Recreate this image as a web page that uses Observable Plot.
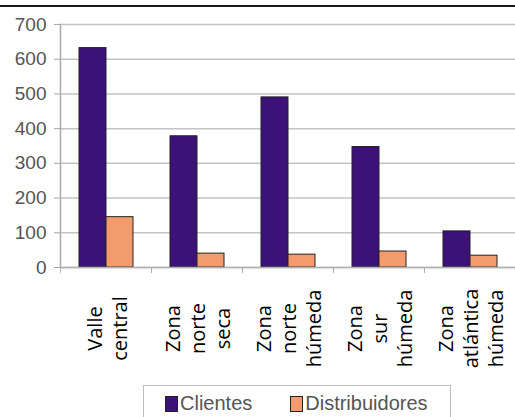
<!DOCTYPE html>
<html>
<head>
<meta charset="utf-8">
<script src="https://cdn.jsdelivr.net/npm/d3@7"></script>
<script src="https://cdn.jsdelivr.net/npm/@observablehq/plot@0.6"></script>
<style>
  html, body { margin: 0; padding: 0; background: #fff; overflow: hidden; }
  #wrap { position: relative; width: 515px; height: 417px; }
  #topline { position: absolute; left: 0; top: 5px; width: 515px; border-top: 2px solid #1a1a1a; }
  #chart { position: absolute; left: 0; top: 0; }
  #legend { position: absolute; left: 143px; top: 385px; width: 308px; height: 40px;
    border: 1.5px solid #bdbdbd; box-sizing: border-box; display: flex; align-items: flex-start;
    font-family: "Liberation Sans", Arial, sans-serif; font-size: 20px; color: #555; padding-top: 6px; }
  .item { display: flex; align-items: center; }
  .sw { width: 11px; height: 14px; border: 1px solid #222; margin-right: 2px; }
</style>
</head>
<body>
<div id="wrap">
  <div id="chart"></div>
  <div id="topline"></div>
  <div id="legend"></div>
</div>
<script>
const categories = ["Valle\ncentral", "Zona\nnorte\nseca", "Zona\nnorte\nhúmeda", "Zona\nsur\nhúmeda", "Zona\natlántica\nhúmeda"];
const series = ["Clientes", "Distribuidores"];
const clientes = [632, 378, 490, 347, 104];
const distribuidores = [145, 40, 37, 46, 34];
const yTicks = [0, 100, 200, 300, 400, 500, 600, 700];
const colors = ["#3c1278", "#f39b6c"];

const data = categories.flatMap((c, i) => [
  {cat: c, serie: series[0], value: clientes[i]},
  {cat: c, serie: series[1], value: distribuidores[i]}
]);

const chart = Plot.plot({
  width: 515,
  height: 380,
  marginTop: 24,
  marginBottom: 113,
  marginLeft: 59,
  marginRight: 0,
  style: {fontFamily: "'Liberation Sans', Arial, sans-serif", overflow: "visible", background: "transparent"},
  fx: {domain: categories, padding: 0, axis: null},
  x: {domain: series, paddingInner: 0, paddingOuter: 0.68, axis: null},
  y: {domain: [0, 700], axis: null},
  color: {domain: series, range: colors},
  marks: [
    Plot.gridY(yTicks, {stroke: "#c4c4c4", strokeOpacity: 1, strokeWidth: 1.5}),
    Plot.frame({anchor: "left", insetTop: 243, insetBottom: -5, stroke: "#b0b0b0", strokeWidth: 1}),
    Plot.frame({anchor: "left", facetAnchor: "left", stroke: "#a8a8a8", strokeWidth: 1.5}),
    Plot.barY(data, {fx: "cat", x: "serie", y: "value", fill: "serie", stroke: "#222", strokeWidth: 1}),
    Plot.ruleY([0], {stroke: "#b0b0b0", strokeWidth: 1.5}),
    Plot.axisY(yTicks, {tickSize: 6, tickPadding: 8, fontSize: 19, fill: "#555", stroke: "#a8a8a8", label: null}),
    Plot.text(categories, {fx: d => d, text: d => d, frameAnchor: "bottom", dy: 61, rotate: -90,
      textAnchor: "middle", lineAnchor: "middle", lineHeight: 1.25, fontSize: 20, fill: "#000",
      fontFamily: "'Open Sans', sans-serif"})
  ]
});
document.getElementById("chart").appendChild(chart);

const legend = document.getElementById("legend");
series.forEach((s, i) => {
  const item = document.createElement("div");
  item.className = "item";
  item.style.marginLeft = i === 0 ? "21px" : "38px";
  const sw = document.createElement("div");
  sw.className = "sw";
  sw.style.background = colors[i];
  const t = document.createElement("span");
  t.textContent = s;
  item.appendChild(sw);
  item.appendChild(t);
  legend.appendChild(item);
});
</script>
</body>
</html>
